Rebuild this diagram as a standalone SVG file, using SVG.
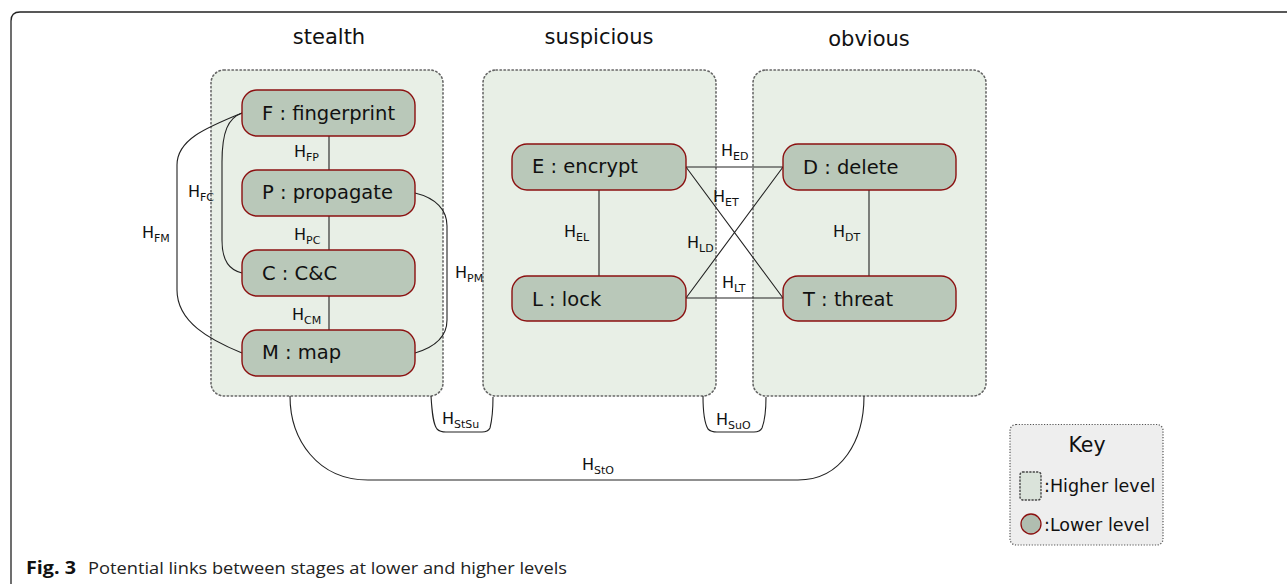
<svg xmlns="http://www.w3.org/2000/svg" width="1287" height="584" viewBox="0 0 1287 584">
<style>
.stage{fill:#e8efe6;stroke:#666;stroke-width:1.6;stroke-dasharray:1.4 2.6;stroke-linecap:round}
.node{fill:#b9c8b9;stroke:#8b1010;stroke-width:1.4}
.nt{font-family:"DejaVu Sans",sans-serif;font-size:19.5px;fill:#111}
.title{font-family:"DejaVu Sans",sans-serif;font-size:21px;fill:#111;text-anchor:middle}
.lb{font-family:"DejaVu Sans",sans-serif;font-size:16px;fill:#111}
.sub{font-size:11px}
.edge{fill:none;stroke:#222;stroke-width:1.1}
.key{font-family:"DejaVu Sans",sans-serif;fill:#111}
</style>
<rect width="1287" height="584" fill="#fff"/>
<path d="M11 584 L11 21 Q11 12 20 12 L1287 12" fill="none" stroke="#222" stroke-width="1.3"/>

<g id="stage-stealth">
<rect class="stage" x="211" y="70" width="232" height="326" rx="13"/>
<text class="title" x="329" y="44">stealth</text>
</g>
<g id="stage-suspicious">
<rect class="stage" x="483" y="70" width="233" height="326" rx="13"/>
<text class="title" x="599" y="44">suspicious</text>
</g>
<g id="stage-obvious">
<rect class="stage" x="753" y="70" width="233" height="326" rx="13"/>
<text class="title" x="869" y="46">obvious</text>
</g>

<g id="connectors">
<path class="edge" d="M329 136 V170 M329 216 V250 M329 296 V330"/>
<path class="edge" d="M242 113 C228 118 222 132 222 162 L222 240 C222 262 230 270 242 273"/>
<path class="edge" d="M242 113 C205 128 177 140 177 165 L177 290 C177 322 210 340 242 353"/>
<path class="edge" d="M415 193 C436 198 447 210 447 226 L447 320 C447 338 432 348 415 353"/>
<path class="edge" d="M599 190 V276 M869 190 V276"/>
<path class="edge" d="M686 167 L783 167 M686 298 L783 298 M686 167 L783 298 M686 298 L783 167"/>
<path class="edge" d="M431 396 C432 412 433 424 437 429 Q440 432 446 432 L482 432 Q488 432 490 428 C492 420 493 410 493 397"/>
<path class="edge" d="M703 396 C703 412 705 424 708 429 Q711 432 717 432 L754 432 Q760 432 762 428 C765 420 766 410 766 397"/>
<path class="edge" d="M290 396 C290 440 318 480 368 480 L798 480 C842 480 864 440 864 396"/>
<text class="lb" x="294" y="157">H<tspan class="sub" dy="4">FP</tspan></text>
<text class="lb" x="294" y="240">H<tspan class="sub" dy="4">PC</tspan></text>
<text class="lb" x="292" y="320">H<tspan class="sub" dy="4">CM</tspan></text>
<text class="lb" x="188" y="197">H<tspan class="sub" dy="4">FC</tspan></text>
<text class="lb" x="142" y="238">H<tspan class="sub" dy="4">FM</tspan></text>
<text class="lb" x="455" y="278">H<tspan class="sub" dy="4">PM</tspan></text>
<text class="lb" x="564" y="237">H<tspan class="sub" dy="4">EL</tspan></text>
<text class="lb" x="833" y="237">H<tspan class="sub" dy="4">DT</tspan></text>
<text class="lb" x="721" y="156">H<tspan class="sub" dy="4">ED</tspan></text>
<text class="lb" x="713" y="202">H<tspan class="sub" dy="4">ET</tspan></text>
<text class="lb" x="687" y="248">H<tspan class="sub" dy="4">LD</tspan></text>
<text class="lb" x="722" y="288">H<tspan class="sub" dy="4">LT</tspan></text>
<text class="lb" x="442" y="424">H<tspan class="sub" dy="4">StSu</tspan></text>
<text class="lb" x="716" y="425">H<tspan class="sub" dy="4">SuO</tspan></text>
<text class="lb" x="582" y="470">H<tspan class="sub" dy="4">StO</tspan></text>
</g>

<g id="node-F"><rect class="node" x="242" y="90" width="173" height="46" rx="15"/><text class="nt" x="262" y="120">F : fingerprint</text></g>
<g id="node-P"><rect class="node" x="242" y="170" width="173" height="46" rx="15"/><text class="nt" x="262" y="199">P : propagate</text></g>
<g id="node-C"><rect class="node" x="242" y="250" width="173" height="46" rx="15"/><text class="nt" x="262" y="280">C : C&amp;C</text></g>
<g id="node-M"><rect class="node" x="242" y="330" width="173" height="46" rx="15"/><text class="nt" x="262" y="359">M : map</text></g>
<g id="node-E"><rect class="node" x="512" y="144" width="174" height="46" rx="15"/><text class="nt" x="532" y="173">E : encrypt</text></g>
<g id="node-L"><rect class="node" x="512" y="276" width="174" height="45" rx="15"/><text class="nt" x="532" y="306">L : lock</text></g>
<g id="node-D"><rect class="node" x="783" y="144" width="173" height="46" rx="15"/><text class="nt" x="803" y="174">D : delete</text></g>
<g id="node-T"><rect class="node" x="783" y="276" width="173" height="45" rx="15"/><text class="nt" x="803" y="306">T : threat</text></g>

<g id="key">
<rect x="1010" y="424.5" width="153" height="120.5" rx="6" fill="#eeeeee" stroke="#555" stroke-width="1.2" stroke-dasharray="1.2 1.6"/>
<text class="key" x="1087" y="452" font-size="20.5px" text-anchor="middle">Key</text>
<rect x="1020" y="472" width="21" height="28" rx="3" fill="#dae3da" stroke="#444" stroke-width="1.4" stroke-dasharray="1.2 2.2" stroke-linecap="round"/>
<text class="key" x="1044" y="492" font-size="17.5px">:Higher level</text>
<circle cx="1031" cy="524" r="10" fill="#b0bdb0" stroke="#8b1010" stroke-width="1.3"/>
<text class="key" x="1044" y="531" font-size="17.5px">:Lower level</text>
</g>

<g id="caption">
<text x="26" y="574" font-family="'Open Sans',sans-serif" font-size="17px" font-weight="bold" fill="#111" textLength="50" lengthAdjust="spacingAndGlyphs">Fig. 3</text>
<text x="88" y="574" font-family="'Open Sans',sans-serif" font-size="16.5px" fill="#222" textLength="479" lengthAdjust="spacingAndGlyphs">Potential links between stages at lower and higher levels</text>
</g>
</svg>
